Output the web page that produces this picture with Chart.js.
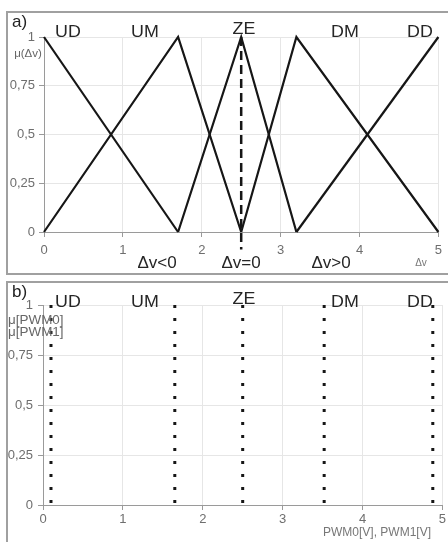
<!DOCTYPE html>
<html>
<head>
<meta charset="utf-8">
<script src="https://cdn.jsdelivr.net/npm/chart.js@4"></script>
<style>
  html, body { margin: 0; padding: 0; background: #fff; }
  body { width: 448px; height: 542px; position: relative; overflow: hidden; }
  .panel { position: absolute; left: 6px; width: 440px; border: 2px solid #a0a0a0; }
  #pa { top: 11px; height: 260px; }
  #pb { top: 281px; height: 259px; border-bottom: none; border-right: none; }
  canvas { display: block; }
</style>
</head>
<body>
<div class="panel" id="pa"><canvas id="chart-a" width="440" height="260"></canvas></div>
<div class="panel" id="pb"><canvas id="chart-b" width="440" height="259"></canvas></div>
<script>
"use strict";

// ── Data ───────────────────────────────────────────────────────────── //
const setNames = ["UD", "UM", "ZE", "DM", "DD"];

// a) membership functions of Δv
const udX = [0, 1.7],        udY = [1, 0];
const umX = [0, 1.7, 2.5],   umY = [0, 1, 0];
const zeX = [1.7, 2.5, 3.2], zeY = [0, 1, 0];
const dmX = [2.5, 3.2, 5],   dmY = [0, 1, 0];
const ddX = [3.2, 5],        ddY = [0, 1];
const zeroX = [2.5, 2.5],    zeroY = [1, -0.09];

// b) singletons for PWM0 / PWM1
const pwmX = [0.1, 1.65, 2.5, 3.52, 4.88];
const pwmY = [1, 0];

const xTicks = [0, 1, 2, 3, 4, 5];
const yTicks = [0, 0.25, 0.5, 0.75, 1];

// ── Helpers ────────────────────────────────────────────────────────── //
const INK  = "#161616";
const GRID = "#e6e6e6";
const AXIS = "#9a9a9a";
const TICK = "#6e6e6e";
const FONT = "'Liberation Sans', Arial, sans-serif";

const pts = (xs, ys) => xs.map((x, i) => ({ x, y: ys[i] }));
const comma = v => String(v).replace(".", ",");

function lineSet(data, extra) {
  return Object.assign({
    data, showLine: true, borderColor: INK, borderWidth: 2.2,
    pointRadius: 0, fill: false, clip: false, tension: 0,
  }, extra || {});
}

// free text drawn on top; sx stretches a label horizontally
const textPlugin = {
  id: "texts",
  afterDraw(chart, _args, opts) {
    const ctx = chart.ctx;
    (opts.items || []).forEach(t => {
      ctx.save();
      ctx.font = t.font;
      ctx.fillStyle = t.color || "#333";
      ctx.textAlign = t.align || "center";
      ctx.textBaseline = t.base || "alphabetic";
      ctx.translate(t.x, t.y);
      ctx.scale(t.sx || 1, 1);
      ctx.fillText(t.t, 0, 0);
      ctx.restore();
    });
  },
};

function scales(yWidth, xHeight, xPad, yPad) {
  return {
    x: {
      type: "linear", min: 0, max: 5,
      afterBuildTicks: s => { s.ticks = xTicks.map(v => ({ value: v })); },
      afterFit: s => { s.height = xHeight; },
      ticks: { color: TICK, font: { family: FONT, size: 13 }, padding: xPad, maxRotation: 0 },
      grid: { color: GRID, tickColor: AXIS, tickLength: 5 },
      border: { color: AXIS, width: 1 },
    },
    y: {
      type: "linear", min: 0, max: 1,
      afterBuildTicks: s => { s.ticks = yTicks.map(v => ({ value: v })); },
      afterFit: s => { s.width = yWidth; },
      ticks: { color: TICK, font: { family: FONT, size: 13 }, padding: yPad, callback: comma },
      grid: { color: GRID, tickColor: AXIS, tickLength: 5 },
      border: { color: AXIS, width: 1 },
    },
  };
}

const big = `17px ${FONT}`;
function nameItems(y, zeY) {
  const cx = [60, 137, 236, 337, 412];
  return setNames.map((t, i) => ({ t, x: cx[i], y: i === 2 ? zeY : y, font: big, color: "#262626", sx: 1.05 }));
}

const common = {
  responsive: false,
  animation: false,
  events: [],
};

// ── Chart a ────────────────────────────────────────────────────────── //
new Chart(document.getElementById("chart-a"), {
  type: "scatter",
  data: {
    datasets: [
      lineSet(pts(udX, udY)),
      lineSet(pts(umX, umY)),
      lineSet(pts(zeX, zeY)),
      lineSet(pts(dmX, dmY)),
      lineSet(pts(ddX, ddY)),
      lineSet(pts(zeroX, zeroY), { borderWidth: 2.5, borderDash: [9, 5] }),
    ],
  },
  options: Object.assign({}, common, {
    layout: { padding: { top: 24, right: 4, left: 0, bottom: 0 } },
    scales: scales(36, 41, 6, 4),
    plugins: {
      legend: { display: false },
      tooltip: { enabled: false },
      texts: {
        items: [
          { t: "a)", x: 4, y: 14, font: `17px ${FONT}`, align: "left", color: "#222" },
          ...nameItems(24, 21),
          { t: "μ(Δv)", x: 20, y: 41, font: `10px ${FONT}`, color: "#666", base: "middle", sx: 1.15 },
          { t: "Δv<0", x: 149, y: 255, font: `17px ${FONT}`, color: "#262626" },
          { t: "Δv=0", x: 233, y: 255, font: `17px ${FONT}`, color: "#262626" },
          { t: "Δv>0", x: 323, y: 255, font: `17px ${FONT}`, color: "#262626" },
          { t: "Δv", x: 413, y: 253, font: `10px ${FONT}`, color: "#777" },
        ],
      },
    },
  }),
  plugins: [textPlugin],
});

// ── Chart b ────────────────────────────────────────────────────────── //
new Chart(document.getElementById("chart-b"), {
  type: "scatter",
  data: {
    datasets: pwmX.map(x =>
      lineSet(pts([x, x], pwmY), { borderWidth: 3, borderDash: [3, 10], borderCapStyle: "butt" })
    ),
  },
  options: Object.assign({}, common, {
    layout: { padding: { top: 22, right: 4, left: 0, bottom: 0 } },
    scales: scales(35, 37, 2, 5),
    plugins: {
      legend: { display: false },
      tooltip: { enabled: false },
      texts: {
        items: [
          { t: "b)", x: 4, y: 14, font: `17px ${FONT}`, align: "left", color: "#222" },
          ...nameItems(24, 21),
          { t: "μ[PWM0]", x: 0, y: 38, font: `12px ${FONT}`, color: "#666", align: "left", base: "middle", sx: 1.12 },
          { t: "μ[PWM1]", x: 0, y: 50, font: `12px ${FONT}`, color: "#666", align: "left", base: "middle", sx: 1.12 },
          { t: "PWM0[V], PWM1[V]", x: 315, y: 250, font: `12px ${FONT}`, color: "#777", align: "left", base: "middle" },
        ],
      },
    },
  }),
  plugins: [textPlugin],
});
</script>
</body>
</html>
